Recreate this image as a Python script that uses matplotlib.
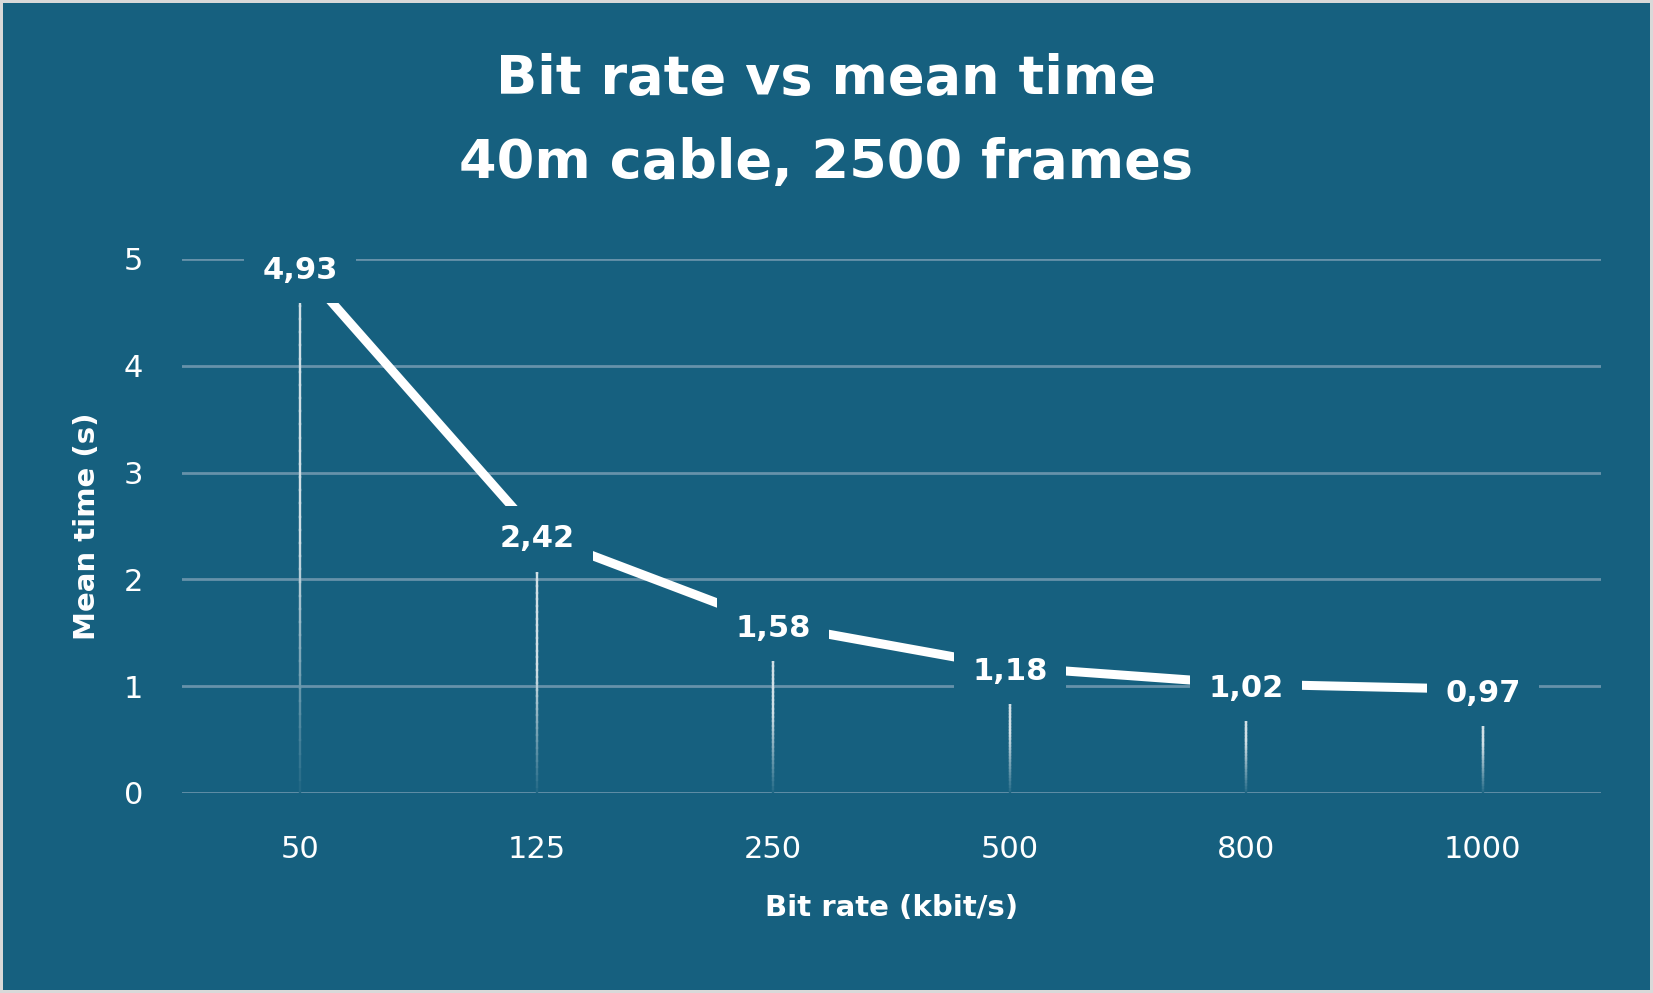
import matplotlib.pyplot as plt
import numpy as np
from matplotlib.collections import LineCollection
from matplotlib.colors import to_rgb

# data
bit_rates = ['50', '125', '250', '500', '800', '1000']
mean_time = [4.93, 2.42, 1.58, 1.18, 1.02, 0.97]
value_labels = ['4,93', '2,42', '1,58', '1,18', '1,02', '0,97']

bg = '#16607F'
grid_c = '#6692AA'

fig = plt.figure(figsize=(16.53, 9.93), dpi=100, facecolor=bg,
                 edgecolor='#D9D9D9', linewidth=4)
ax = fig.add_axes([182/1653, 1 - 793/993, (1601-182)/1653, (793-259)/993])
ax.set_facecolor(bg)

x = np.arange(len(bit_rates))

# grid
for yv in range(0, 6):
    ax.axhline(yv, color=grid_c, linewidth=2, zorder=1)

# drop lines, fading towards the bottom (opaque blends so pieces don't stack)
bg_rgb = np.array(to_rgb(bg))
for xi, yi in zip(x, mean_time):
    n = 40
    ys = np.linspace(0, yi, n + 1)
    segs = [[(xi, ys[k]), (xi, ys[k + 1])] for k in range(n)]
    w = np.clip(np.linspace(0.05, 1.6, n), 0, 0.8)
    cols = [tuple(bg_rgb * (1 - a) + a) for a in w]
    ax.add_collection(LineCollection(segs, colors=cols, linewidths=1.7,
                                     capstyle='projecting', zorder=2))

# main line
ax.plot(x, mean_time, color='white', linewidth=6.5, solid_capstyle='butt', zorder=3)

# value labels, box hides line behind
for xi, yi, lab in zip(x, mean_time, value_labels):
    ax.annotate(lab, (xi, yi), xytext=(0, -3), textcoords='offset points',
                ha='center', va='center', fontsize=22, fontweight='bold',
                color='white', zorder=4,
                bbox=dict(boxstyle='square,pad=0.6', facecolor=bg, edgecolor='none'))

ax.set_xlim(-0.5, len(x) - 0.5)
ax.set_ylim(0, 5)
ax.set_xticks(x)
ax.set_xticklabels(bit_rates)
ax.set_yticks(range(0, 6))
for s in ax.spines.values():
    s.set_visible(False)
ax.tick_params(length=0, colors='white', labelsize=22)
ax.tick_params(axis='x', pad=30)
ax.tick_params(axis='y', pad=28)

ax.set_xlabel('Bit rate (kbit/s)', color='white', fontsize=21, fontweight='bold', labelpad=22)
ax.set_ylabel('Mean time (s)', color='white', fontsize=21, fontweight='bold', labelpad=16)

fig.text(0.5, 1 - 79/993, 'Bit rate vs mean time', ha='center', va='center',
         color='white', fontsize=39, fontweight='bold')
fig.text(0.5, 1 - 163/993, '40m cable, 2500 frames', ha='center', va='center',
         color='white', fontsize=39, fontweight='bold')

fig.savefig('out.png', dpi=100, facecolor=bg, edgecolor='#D9D9D9')
